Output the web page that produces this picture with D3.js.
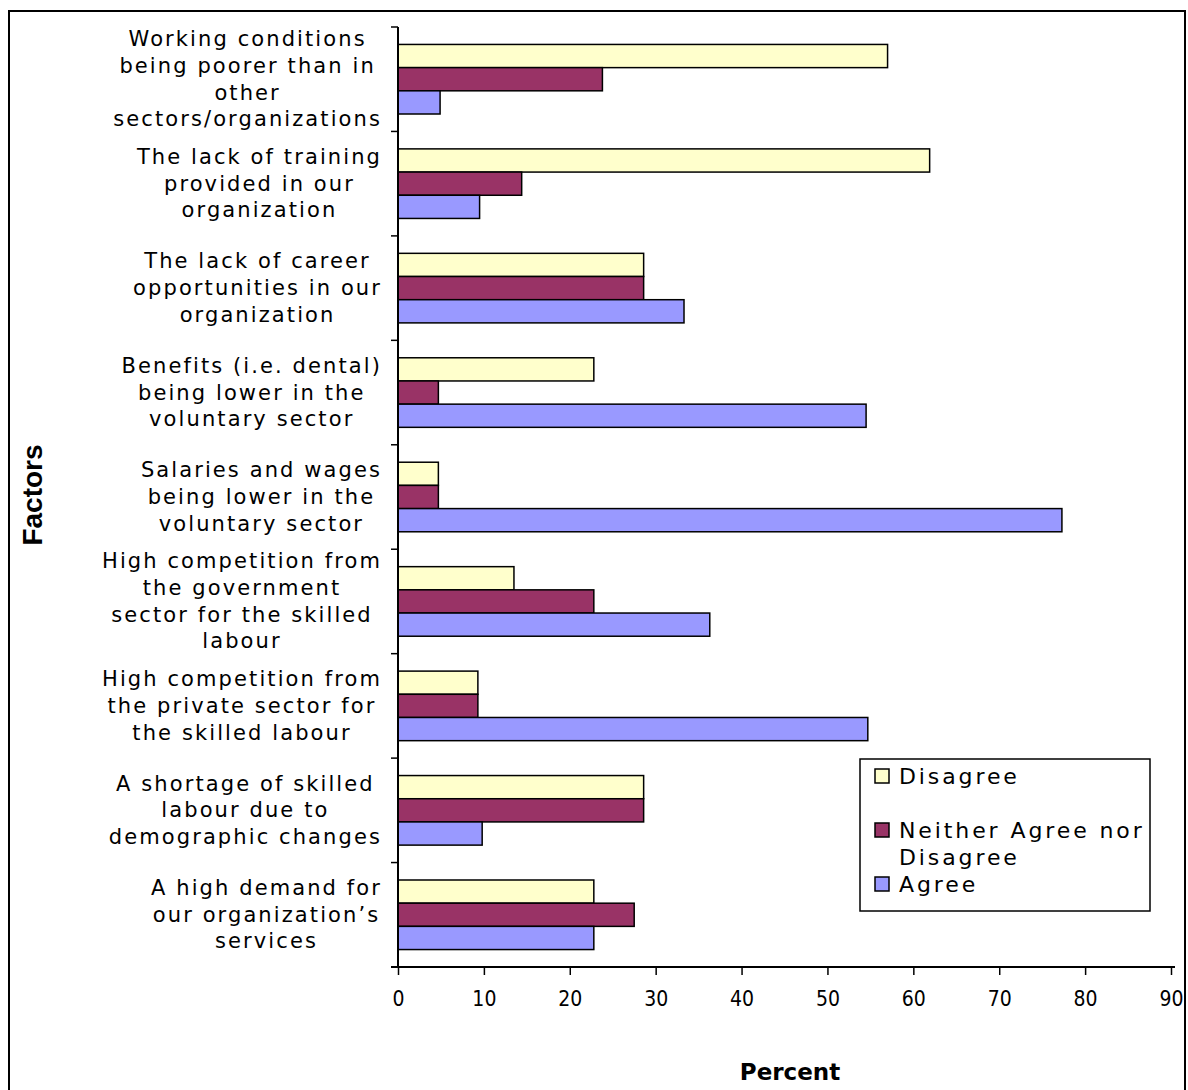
<!DOCTYPE html>
<html>
<head>
<meta charset="utf-8">
<script src="https://cdn.jsdelivr.net/npm/d3@7"></script>
<style>
  body { margin: 0; background: #fff; }
  svg { display: block; }
</style>
</head>
<body>
<svg id="chart"></svg>
<script>
// Chart data
const categories = [
  "Working conditions being poorer than in other sectors/organizations",
  "The lack of training provided in our organization",
  "The lack of career opportunities in our organization",
  "Benefits (i.e. dental) being lower in the voluntary sector",
  "Salaries and wages being lower in the voluntary sector",
  "High competition from the government sector for the skilled labour",
  "High competition from the private sector for the skilled labour",
  "A shortage of skilled labour due to demographic changes",
  "A high demand for our organization\u2019s services"
];
// wrapped lines as they appear in the picture
const categoryLines = [
  ["Working conditions", "being poorer than in", "other", "sectors/organizations"],
  ["The lack of training", "provided in our", "organization"],
  ["The lack of career", "opportunities in our", "organization"],
  ["Benefits (i.e. dental)", "being lower in the", "voluntary sector"],
  ["Salaries and wages", "being lower in the", "voluntary sector"],
  ["High competition from", "the government", "sector for the skilled", "labour"],
  ["High competition from", "the private sector for", "the skilled labour"],
  ["A shortage of skilled", "labour due to", "demographic changes"],
  ["A high demand for", "our organization\u2019s", "services"]
];
const seriesNames = ["Disagree", "Neither Agree nor Disagree", "Agree"];
const disagree = [57.0, 61.9, 28.6, 22.8, 4.7, 13.5, 9.3, 28.6, 22.8];
const neither  = [23.8, 14.4, 28.6, 4.7, 4.7, 22.8, 9.3, 28.6, 27.5];
const agree    = [4.9, 9.5, 33.3, 54.5, 77.3, 36.3, 54.7, 9.8, 22.8];
const xTicks = [0, 10, 20, 30, 40, 50, 60, 70, 80, 90];

const seriesValues = [disagree, neither, agree];
const colors = ["#FFFFCC", "#993366", "#9999FF"];

const width = 1188;
const height = 1090;
const margin = { left: 398, right: 17, top: 27, bottom: 123 };

const svg = d3.select('#chart')
  .attr('width', width)
  .attr('height', height);

// outer frame
svg.append('rect')
  .attr('x', 9).attr('y', 11)
  .attr('width', 1176).attr('height', 1100)
  .attr('fill', 'none')
  .attr('stroke', '#000')
  .attr('stroke-width', 2);

const x = d3.scaleLinear()
  .domain([0, 90])
  .range([margin.left, width - margin.right]);

const y = d3.scaleBand()
  .domain(categories)
  .range([margin.top, height - margin.bottom]);

const barH = y.bandwidth() * 0.222;
const inner = d3.scaleBand()
  .domain(seriesNames)
  .range([(y.bandwidth() - 3 * barH) / 2, (y.bandwidth() + 3 * barH) / 2]);

// bars
const rows = [];
categories.forEach((c, i) => {
  seriesNames.forEach((s, j) => {
    rows.push({ category: c, series: s, value: seriesValues[j][i], color: colors[j] });
  });
});

svg.append('g')
  .selectAll('rect')
  .data(rows)
  .enter().append('rect')
    .attr('x', x(0))
    .attr('y', d => y(d.category) + inner(d.series))
    .attr('width', d => x(d.value) - x(0))
    .attr('height', inner.bandwidth())
    .attr('fill', d => d.color)
    .attr('stroke', '#000')
    .attr('stroke-width', 1.5);

// x axis
const xAxis = svg.append('g')
  .attr('transform', `translate(0,${height - margin.bottom})`)
  .call(d3.axisBottom(x).tickValues(xTicks).tickSize(8).tickFormat(d3.format('d')));
xAxis.select('.domain').attr('stroke-width', 2)
  .attr('d', `M${x(0) - 7},0H${x(90) + 4}`);
xAxis.selectAll('.tick line').attr('stroke-width', 1.5);
xAxis.selectAll('.tick text')
  .attr('dy', 0)
  .attr('y', 39)
  .style('font-family', '"DejaVu Sans Condensed", "Liberation Sans Narrow", sans-serif')
  .style('font-size', '21px')
  .attr('fill', '#000');

// y axis line + boundary ticks
const yAxis = svg.append('g');
yAxis.append('line')
  .attr('x1', x(0)).attr('x2', x(0))
  .attr('y1', margin.top).attr('y2', height - margin.bottom)
  .attr('stroke', '#000').attr('stroke-width', 2);
const boundaries = categories.map(c => y(c)).concat([y.range()[1]]);
yAxis.selectAll('line.tk')
  .data(boundaries)
  .enter().append('line')
    .attr('class', 'tk')
    .attr('x1', x(0) - 7).attr('x2', x(0))
    .attr('y1', d => d).attr('y2', d => d)
    .attr('stroke', '#000').attr('stroke-width', 1.5);

// category labels
const lineH = 26.7;
const labelRight = 382;
categories.forEach((c, i) => {
  const lines = categoryLines[i];
  const cy = y(c) + y.bandwidth() / 2;
  const g = svg.append('g');
  const texts = g.selectAll('text')
    .data(lines)
    .enter().append('text')
      .attr('text-anchor', 'middle')
      .attr('dominant-baseline', 'central')
      .attr('y', (d, k) => cy + (k - (lines.length - 1) / 2) * lineH)
      .style('font-family', '"DejaVu Sans", Verdana, sans-serif')
      .style('font-size', '21px')
      .style('letter-spacing', '2.1px')
      .attr('fill', '#000')
      .text(d => d);
  let maxW = 0;
  texts.each(function() { maxW = Math.max(maxW, this.getComputedTextLength()); });
  texts.attr('x', labelRight - maxW / 2);
});

// axis titles
svg.append('text')
  .attr('x', 790).attr('y', 1080)
  .attr('text-anchor', 'middle')
  .style('font-family', '"DejaVu Sans", Verdana, sans-serif')
  .style('font-weight', 'bold')
  .style('font-size', '23px')
  .text('Percent');

svg.append('text')
  .attr('transform', 'translate(42,495) rotate(-90)')
  .attr('text-anchor', 'middle')
  .style('font-family', '"Liberation Sans", Arial, sans-serif')
  .style('font-weight', 'bold')
  .style('font-size', '28px')
  .text('Factors');

// legend
const legend = svg.append('g').attr('transform', 'translate(860,759)');
legend.append('rect')
  .attr('width', 290).attr('height', 152)
  .attr('fill', '#fff').attr('stroke', '#000').attr('stroke-width', 1.5);
const legendItems = [
  { lines: ["Disagree"], y: 17 },
  { lines: ["Neither Agree nor", "Disagree"], y: 71 },
  { lines: ["Agree"], y: 125 }
];
legendItems.forEach((item, i) => {
  legend.append('rect')
    .attr('x', 15).attr('y', item.y - 7)
    .attr('width', 14).attr('height', 14)
    .attr('fill', colors[i]).attr('stroke', '#000').attr('stroke-width', 1.5);
  item.lines.forEach((t, k) => {
    legend.append('text')
      .attr('x', 39).attr('y', item.y + k * 27)
      .attr('dominant-baseline', 'central')
      .style('font-family', '"DejaVu Sans", Verdana, sans-serif')
      .style('font-size', '22px')
      .style('letter-spacing', '2.9px')
      .text(t);
  });
});
</script>
</body>
</html>
